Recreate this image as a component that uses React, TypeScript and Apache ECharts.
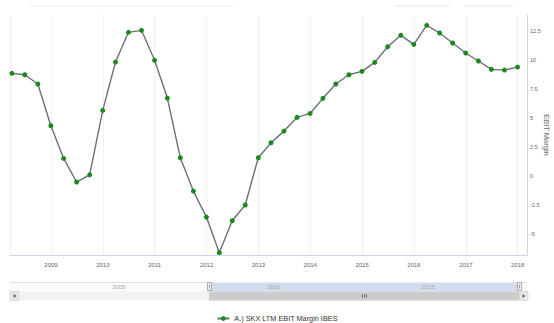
import React, { useEffect, useRef } from "react";
import * as echarts from "echarts";

const quarterEnds = [
  "2008-03-31", "2008-06-30", "2008-09-30", "2008-12-31",
  "2009-03-31", "2009-06-30", "2009-09-30", "2009-12-31",
  "2010-03-31", "2010-06-30", "2010-09-30", "2010-12-31",
  "2011-03-31", "2011-06-30", "2011-09-30", "2011-12-31",
  "2012-03-31", "2012-06-30", "2012-09-30", "2012-12-31",
  "2013-03-31", "2013-06-30", "2013-09-30", "2013-12-31",
  "2014-03-31", "2014-06-30", "2014-09-30", "2014-12-31",
  "2015-03-31", "2015-06-30", "2015-09-30", "2015-12-31",
  "2016-03-31", "2016-06-30", "2016-09-30", "2016-12-31",
  "2017-03-31", "2017-06-30", "2017-09-30", "2017-12-31",
];

const ebitMargin = [
  8.83, 8.71, 7.91, 4.32,
  1.51, -0.52, 0.1, 5.64,
  9.8, 12.36, 12.53, 9.95,
  6.7, 1.57, -1.3, -3.54,
  -6.6, -3.85, -2.5, 1.57,
  2.86, 3.86, 5.04, 5.38,
  6.68, 7.91, 8.71, 9.0,
  9.77, 11.12, 12.1, 11.32,
  12.96, 12.3, 11.44, 10.58,
  9.89, 9.17, 9.11, 9.37,
];

const navigatorYears = ["2005", "2010", "2015"];
const seriesName = "A.) SKX LTM EBIT Margin IBES";
const axisTitle = "EBIT Margin";

const FONT = "Liberation Sans, Arial, Helvetica, sans-serif";

function toYearFraction(s: string): number {
  const [y, m, d] = s.split("-").map(Number);
  const start = Date.UTC(y, 0, 1);
  const end = Date.UTC(y + 1, 0, 1);
  return y + (Date.UTC(y, m - 1, d) - start) / (end - start);
}

export default function App() {
  const ref = useRef<HTMLDivElement>(null);

  useEffect(() => {
    if (!ref.current) return;
    const chart = echarts.init(ref.current, null, { renderer: "svg" });
    const data = quarterEnds.map((d, i) => [toYearFraction(d), ebitMargin[i]]);

    const navLabelX = [112, 267, 421.5];

    chart.setOption({
      animation: false,
      backgroundColor: "#ffffff",
      textStyle: { fontFamily: FONT },
      grid: {
        left: 10,
        right: 27,
        top: 15,
        bottom: 68,
        containLabel: false,
        outerBoundsMode: "none",
      },
      xAxis: {
        type: "value",
        min: 2008.209,
        max: 2018.18,
        minInterval: 1,
        maxInterval: 1,
        axisLine: { show: true, onZero: false, lineStyle: { color: "#ccd6eb", width: 1 } },
        axisTick: { show: false },
        axisLabel: {
          showMinLabel: false,
          showMaxLabel: false,
          color: "#666666",
          fontSize: 6,
          margin: 7,
          fontFamily: FONT,
          formatter: (v: number) => String(Math.round(v)),
        },
        splitLine: { show: true, lineStyle: { color: "#f2f2f2", width: 1 } },
      },
      yAxis: {
        type: "value",
        position: "right",
        min: -6.8,
        max: 13.85,
        minInterval: 2.5,
        maxInterval: 2.5,
        name: axisTitle,
        nameLocation: "middle",
        nameRotate: -90,
        nameGap: 15,
        nameMoveOverlap: false,
        nameTextStyle: { color: "#666666", fontSize: 7.5, fontFamily: FONT },
        axisLine: { show: true, lineStyle: { color: "#ccd6eb", width: 1 } },
        axisTick: { show: false },
        axisLabel: {
          showMinLabel: false,
          showMaxLabel: false,
          color: "#666666",
          fontSize: 5.5,
          margin: 3,
          fontFamily: FONT,
        },
        splitLine: { show: false },
      },
      legend: {
        show: true,
        left: "center",
        top: 310,
        itemWidth: 12,
        itemHeight: 6,
        itemGap: 10,
        textStyle: { color: "#333333", fontSize: 7.3, fontFamily: FONT },
        data: [seriesName],
      },
      series: [
        {
          name: seriesName,
          type: "line",
          data,
          symbol: "circle",
          symbolSize: 5,
          showSymbol: true,
          lineStyle: { color: "#6a6f7c", width: 1.4 },
          itemStyle: { color: "#1b8a1b" },
          z: 3,
        },
      ],
      graphic: [
        // faint range-selector remnants at top
        { type: "line", shape: { x1: 30, y1: 6, x2: 233, y2: 6 }, style: { stroke: "#ececec", lineWidth: 1 }, silent: true },
        { type: "line", shape: { x1: 395, y1: 6, x2: 450, y2: 6 }, style: { stroke: "#e4e4e4", lineWidth: 1 }, silent: true },
        { type: "line", shape: { x1: 465, y1: 6, x2: 513, y2: 6 }, style: { stroke: "#e4e4e4", lineWidth: 1 }, silent: true },
        // navigator band
        { type: "rect", shape: { x: 10, y: 282.5, width: 517, height: 9 }, style: { fill: "#fbfbfb" }, silent: true },
        { type: "rect", shape: { x: 209, y: 282.5, width: 310, height: 9 }, style: { fill: "#d3dcee" }, silent: true },
        { type: "line", shape: { x1: 10, y1: 282.5, x2: 209, y2: 282.5 }, style: { stroke: "#dddddd", lineWidth: 1 }, silent: true },
        { type: "line", shape: { x1: 519, y1: 282.5, x2: 527, y2: 282.5 }, style: { stroke: "#dddddd", lineWidth: 1 }, silent: true },
        ...navigatorYears.map((t, i) => ({
          type: "text",
          x: navLabelX[i],
          y: 286.5,
          style: { text: t, fill: "#a8a8a8", fontSize: 6, fontFamily: FONT, verticalAlign: "middle", align: "left" },
          silent: true,
        })),
        // handles
        { type: "rect", shape: { x: 207.5, y: 282.5, width: 4, height: 8 }, style: { fill: "#f2f2f2", stroke: "#999999", lineWidth: 0.8 }, silent: true },
        { type: "line", shape: { x1: 209.5, y1: 284.5, x2: 209.5, y2: 288.5 }, style: { stroke: "#666666", lineWidth: 0.6 }, silent: true },
        { type: "rect", shape: { x: 517.5, y: 282.5, width: 4, height: 8 }, style: { fill: "#f2f2f2", stroke: "#999999", lineWidth: 0.8 }, silent: true },
        { type: "line", shape: { x1: 519.5, y1: 284.5, x2: 519.5, y2: 288.5 }, style: { stroke: "#666666", lineWidth: 0.6 }, silent: true },
        // scrollbar
        { type: "rect", shape: { x: 10, y: 291.5, width: 518, height: 9 }, style: { fill: "#f2f2f2" }, silent: true },
        { type: "rect", shape: { x: 209, y: 291.5, width: 310, height: 9 }, style: { fill: "#cccccc" }, silent: true },
        { type: "rect", shape: { x: 10, y: 291.5, width: 8.5, height: 9 }, style: { fill: "#e6e6e6", stroke: "#cccccc", lineWidth: 0.6 }, silent: true },
        { type: "rect", shape: { x: 519.5, y: 291.5, width: 8.5, height: 9 }, style: { fill: "#e6e6e6", stroke: "#cccccc", lineWidth: 0.6 }, silent: true },
        { type: "polygon", shape: { points: [[13, 296], [15.3, 294.3], [15.3, 297.7]] }, style: { fill: "#333333" }, silent: true },
        { type: "polygon", shape: { points: [[525, 296], [522.7, 294.3], [522.7, 297.7]] }, style: { fill: "#333333" }, silent: true },
        { type: "line", shape: { x1: 362.5, y1: 294.3, x2: 362.5, y2: 297.7 }, style: { stroke: "#333333", lineWidth: 0.6 }, silent: true },
        { type: "line", shape: { x1: 364.5, y1: 294.3, x2: 364.5, y2: 297.7 }, style: { stroke: "#333333", lineWidth: 0.6 }, silent: true },
        { type: "line", shape: { x1: 366.5, y1: 294.3, x2: 366.5, y2: 297.7 }, style: { stroke: "#333333", lineWidth: 0.6 }, silent: true },
      ],
    });

    return () => chart.dispose();
  }, []);

  return (
    <div
      ref={ref}
      style={{ position: "fixed", left: 0, top: 0, width: 554, height: 323, background: "#ffffff" }}
    />
  );
}
